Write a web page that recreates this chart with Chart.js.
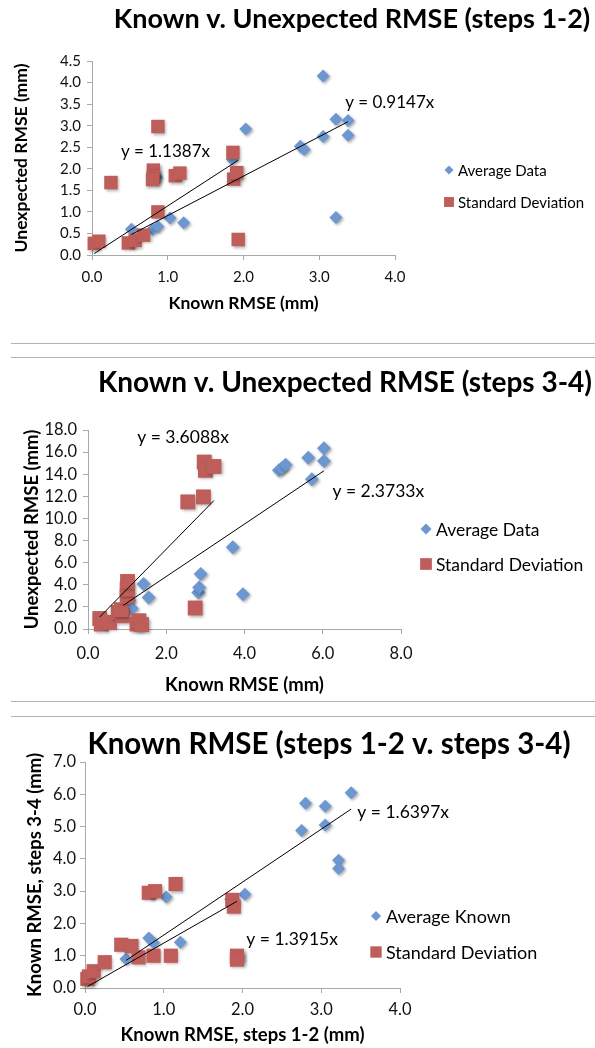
<!DOCTYPE html>
<html><head><meta charset="utf-8">
<script src="https://cdn.jsdelivr.net/npm/chart.js@4/dist/chart.umd.min.js"></script>
<style>
html,body{margin:0;padding:0;background:#fff;width:595px;height:1048px;overflow:hidden;position:relative;}
.box{position:absolute;left:0;}
.sep{position:absolute;left:11px;width:584px;height:0;border-top:1.5px solid #b4b4b4;}
</style></head><body>
<div class="box" style="top:0px"><canvas id="c1" width="595" height="340"></canvas></div>
<div class="box" style="top:358px"><canvas id="c2" width="595" height="342"></canvas></div>
<div class="box" style="top:718px"><canvas id="c3" width="595" height="330"></canvas></div>
<div class="sep" style="top:343px"></div>
<div class="sep" style="top:357px"></div>
<div class="sep" style="top:701px"></div>
<div class="sep" style="top:716px"></div>
<script>
// ---------- Chart 1: Known v. Unexpected RMSE (steps 1-2) ----------
const title1 = 'Known v. Unexpected RMSE (steps 1-2)';
const xTitle1 = 'Known RMSE (mm)';
const yTitle1 = 'Unexpected RMSE (mm)';
const series1 = ['Average Data', 'Standard Deviation'];
const xTicks1 = [0, 1, 2, 3, 4];
const yTicks1 = [0, 0.5, 1, 1.5, 2, 2.5, 3, 3.5, 4, 4.5];
const avg1X = [0.52, 0.80, 0.87, 0.85, 1.03, 1.21, 1.85, 2.03, 2.75, 2.80, 3.05, 3.05, 3.22, 3.22, 3.38, 3.38];
const avg1Y = [0.60, 0.60, 0.66, 1.80, 0.86, 0.75, 2.22, 2.92, 2.52, 2.45, 4.15, 2.75, 3.15, 0.87, 3.12, 2.78];
const sd1X = [0.03, 0.09, 0.25, 0.48, 0.57, 0.68, 0.81, 0.81, 0.80, 0.87, 0.87, 1.10, 1.16, 1.87, 1.86, 1.91, 1.93];
const sd1Y = [0.27, 0.32, 1.68, 0.28, 0.34, 0.46, 1.97, 1.82, 1.75, 2.98, 1.00, 1.84, 1.90, 1.76, 2.38, 1.91, 0.36];
const trend1 = [0.9147, 1.1387];           // slopes: average, std dev
const trend1Labels = ['y = 0.9147x', 'y = 1.1387x'];

// ---------- Chart 2: Known v. Unexpected RMSE (steps 3-4) ----------
const title2 = 'Known v. Unexpected RMSE (steps 3-4)';
const xTitle2 = 'Known RMSE (mm)';
const yTitle2 = 'Unexpected RMSE (mm)';
const series2 = ['Average Data', 'Standard Deviation'];
const xTicks2 = [0, 2, 4, 6, 8];
const yTicks2 = [0, 2, 4, 6, 8, 10, 12, 14, 16, 18];
const avg2X = [0.90, 1.05, 1.12, 1.42, 1.55, 2.82, 2.84, 2.88, 3.70, 3.96, 4.88, 4.95, 5.05, 5.63, 5.72, 6.03, 6.03];
const avg2Y = [1.50, 2.60, 1.85, 4.07, 2.85, 3.30, 3.75, 4.97, 7.40, 3.15, 14.35, 14.55, 14.85, 15.50, 13.55, 16.35, 15.20];
const sd2X = [0.30, 0.34, 0.55, 0.77, 0.88, 0.85, 1.00, 1.00, 1.01, 1.25, 1.30, 1.37, 2.55, 2.74, 2.95, 2.97, 3.00, 3.22];
const sd2Y = [0.95, 0.45, 0.60, 1.50, 1.20, 1.75, 2.95, 3.60, 4.30, 0.45, 0.75, 0.40, 11.50, 1.90, 11.95, 15.10, 14.35, 14.70];
const trend2 = [2.3733, 3.6088];
const trend2Labels = ['y = 2.3733x', 'y = 3.6088x'];

// ---------- Chart 3: Known RMSE (steps 1-2 v. steps 3-4) ----------
const title3 = 'Known RMSE (steps 1-2 v. steps 3-4)';
const xTitle3 = 'Known RMSE, steps 1-2 (mm)';
const yTitle3 = 'Known RMSE, steps 3-4 (mm)';
const series3 = ['Average Known', 'Standard Deviation'];
const xTicks3 = [0, 1, 2, 3, 4];
const yTicks3 = [0, 1, 2, 3, 4, 5, 6, 7];
const avg3X = [0.52, 0.81, 0.87, 0.85, 1.03, 1.21, 1.85, 2.03, 2.75, 2.80, 3.05, 3.05, 3.22, 3.22, 3.38];
const avg3Y = [0.90, 1.55, 1.40, 2.93, 2.82, 1.42, 2.75, 2.90, 4.88, 5.72, 5.63, 5.05, 3.96, 3.70, 6.05];
const sd3X = [0.03, 0.05, 0.11, 0.25, 0.46, 0.59, 0.68, 0.81, 0.89, 0.87, 1.09, 1.15, 1.87, 1.89, 1.93, 1.93];
const sd3Y = [0.28, 0.36, 0.52, 0.80, 1.34, 1.30, 0.95, 2.95, 3.00, 1.00, 1.00, 3.22, 2.73, 2.52, 1.00, 0.88];
const trend3 = [1.6397, 1.3915];
const trend3Labels = ['y = 1.6397x', 'y = 1.3915x'];

const BLUE = '#6D97D1';
const RED = '#BE5D59';
const AXIS = '#a9a9a9';
const FONT = 'Lato, "Open Sans", sans-serif';

function pts(xs, ys) { return xs.map((x, i) => ({x: x, y: ys[i]})); }
function trendPts(slope, xs) {
  const lo = Math.min(...xs), hi = Math.max(...xs);
  return [{x: lo, y: slope * lo}, {x: hi, y: slope * hi}];
}

// text drawn at pixel or data positions
const textPlugin = {
  id: 'freeText',
  afterDraw(chart, args, opts) {
    const ctx = chart.ctx;
    (opts.items || []).forEach(it => {
      let x = it.x, y = it.y;
      if (it.data) { x = chart.scales.x.getPixelForValue(it.x); y = chart.scales.y.getPixelForValue(it.y); }
      ctx.save();
      ctx.font = it.font; ctx.fillStyle = '#000';
      ctx.textAlign = it.align || 'center'; ctx.textBaseline = 'middle';
      ctx.fillText(it.text, x, y);
      ctx.restore();
    });
  }
};
// legend drawn from the dataset definitions
const legendPlugin = {
  id: 'sideLegend',
  afterDraw(chart, args, opts) {
    const ctx = chart.ctx;
    const ds = chart.data.datasets.filter(d => d.inLegend).sort((a, b) => a.legendIndex - b.legendIndex);
    ds.forEach((d, i) => {
      const y = opts.y + i * opts.gap;
      ctx.save();
      ctx.fillStyle = d.backgroundColor;
      Chart.helpers.drawPoint(ctx, {pointStyle: d.pointStyle, radius: opts.radius[i], borderWidth: 0, rotation: 0}, opts.x, y);
      ctx.fillStyle = '#000';
      ctx.font = opts.font; ctx.textAlign = 'left'; ctx.textBaseline = 'middle';
      ctx.fillText(d.label, opts.textX, y + 1);
      ctx.restore();
    });
  }
};
const shadowPlugin = {
  id: 'markerShadow',
  beforeDatasetDraw(chart, args) {
    if (chart.data.datasets[args.index].inLegend) {
      const c = chart.ctx; c.save();
      c.shadowColor = 'rgba(0,0,0,0.35)'; c.shadowBlur = 3; c.shadowOffsetX = 1.5; c.shadowOffsetY = 1.5;
    }
  },
  afterDatasetDraw(chart, args) {
    if (chart.data.datasets[args.index].inLegend) chart.ctx.restore();
  }
};

function makeChart(id, s) {
  const axisCommon = {
    type: 'linear',
    border: {display: true, color: AXIS, width: 1},
    grid: {display: true, drawOnChartArea: false, drawTicks: true, tickLength: 5, color: AXIS, tickColor: AXIS}
  };
  return new Chart(document.getElementById(id), {
    type: 'scatter',
    data: {
      datasets: [
        {label: s.series[0], data: pts(s.ax, s.ay), pointStyle: 'rectRot', backgroundColor: BLUE, borderWidth: 0,
         pointRadius: s.rAvg, pointHoverRadius: s.rAvg, order: 2, clip: false, inLegend: true, legendIndex: 0},
        {label: s.series[1], data: pts(s.sx, s.sy), pointStyle: 'rect', backgroundColor: RED, borderWidth: 0,
         pointRadius: s.rSd, pointHoverRadius: s.rSd, order: 1, clip: false, inLegend: true, legendIndex: 1},
        {label: 'trend avg', data: trendPts(s.slopes[0], s.ax), showLine: true, borderColor: '#000', borderWidth: 1,
         pointRadius: 0, order: 0, clip: false},
        {label: 'trend sd', data: trendPts(s.slopes[1], s.sx), showLine: true, borderColor: '#000', borderWidth: 1,
         pointRadius: 0, order: 0, clip: false}
      ]
    },
    options: {
      responsive: false, animation: false, events: [],
      layout: {padding: {top: s.padTop, right: s.padRight, left: 0, bottom: 0}, autoPadding: false},
      plugins: {
        legend: {display: false}, tooltip: {enabled: false}, title: {display: false},
        freeText: {items: [
          {text: s.title, x: s.titleX, y: s.titleY, font: 'bold ' + s.titleSize + 'px ' + FONT},
          {text: s.trendLabels[0], x: s.tl[0][0], y: s.tl[0][1], data: true, font: s.trendFont + 'px ' + FONT},
          {text: s.trendLabels[1], x: s.tl[1][0], y: s.tl[1][1], data: true, font: s.trendFont + 'px ' + FONT}
        ]},
        sideLegend: {x: s.legX, textX: s.legTextX, y: s.legY, gap: s.legGap, radius: s.legR, font: s.legFont + 'px ' + FONT}
      },
      scales: {
        x: Object.assign({}, axisCommon, {
          position: 'bottom',
          min: s.xTicks[0], max: s.xTicks[s.xTicks.length - 1],
          afterBuildTicks: sc => { sc.ticks = s.xTicks.map(v => ({value: v})); },
          ticks: {color: '#111', padding: s.xTickPad, font: {family: FONT, size: s.tickSize}, callback: v => Number(v).toFixed(1), maxRotation: 0, autoSkip: false},
          title: {display: true, text: s.xTitle, color: '#000', font: {family: FONT, size: s.axTitleSize, weight: 'bold'}, padding: {top: 0, bottom: s.xTitlePad}},
          afterFit: sc => { sc.height = s.xH; }
        }),
        y: Object.assign({}, axisCommon, {
          position: 'left',
          min: s.yTicks[0], max: s.yTicks[s.yTicks.length - 1],
          afterBuildTicks: sc => { sc.ticks = s.yTicks.map(v => ({value: v})); },
          ticks: {color: '#111', padding: s.yTickPad, font: {family: FONT, size: s.tickSize}, callback: v => Number(v).toFixed(1), autoSkip: false},
          title: {display: true, text: s.yTitle, color: '#000', font: {family: FONT, size: s.axTitleSize, weight: 'bold'}, padding: {top: s.yTitlePad, bottom: 0}},
          afterFit: sc => { sc.width = s.yW; }
        })
      }
    },
    plugins: [textPlugin, legendPlugin, shadowPlugin]
  });
}

makeChart('c1', {
  series: series1, ax: avg1X, ay: avg1Y, sx: sd1X, sy: sd1Y, slopes: trend1, trendLabels: trend1Labels,
  xTicks: xTicks1, yTicks: yTicks1, xTitle: xTitle1, yTitle: yTitle1, title: title1,
  rAvg: 6.5, rSd: 9.5, padTop: 61, padRight: 200, xH: 85, yW: 92,
  xTickPad: 8, yTickPad: 6, tickSize: 15, axTitleSize: 17.5, xTitlePad: 26, yTitlePad: 11,
  titleX: 352, titleY: 19, titleSize: 27,
  tl: [[3.93, 3.53], [0.97, 2.39]], trendFont: 17,
  legX: 449, legTextX: 458, legY: 170, legGap: 32, legR: [4.5, 7], legFont: 15
});
makeChart('c2', {
  series: series2, ax: avg2X, ay: avg2Y, sx: sd2X, sy: sd2Y, slopes: trend2, trendLabels: trend2Labels,
  xTicks: xTicks2, yTicks: yTicks2, xTitle: xTitle2, yTitle: yTitle2, title: title2,
  rAvg: 7, rSd: 10.5, padTop: 72, padRight: 194, xH: 71, yW: 88,
  xTickPad: 10, yTickPad: 6, tickSize: 16.5, axTitleSize: 18.5, xTitlePad: 4, yTitlePad: 21,
  titleX: 345, titleY: 25, titleSize: 28,
  tl: [[7.42, 12.48], [2.43, 17.36]], trendFont: 17.5,
  legX: 426, legTextX: 436, legY: 171, legGap: 35, legR: [5.5, 8.3], legFont: 17.5
});
makeChart('c3', {
  series: series3, ax: avg3X, ay: avg3Y, sx: sd3X, sy: sd3Y, slopes: trend3, trendLabels: trend3Labels,
  xTicks: xTicks3, yTicks: yTicks3, xTitle: xTitle3, yTitle: yTitle3, title: title3,
  rAvg: 6.5, rSd: 10, padTop: 44, padRight: 195, xH: 60, yW: 85,
  xTickPad: 7, yTickPad: 4, tickSize: 16.5, axTitleSize: 18.5, xTitlePad: 2, yTitlePad: 24,
  titleX: 329, titleY: 26, titleSize: 29.5,
  tl: [[4.04, 5.45], [2.63, 1.52]], trendFont: 17.5,
  legX: 376, legTextX: 386, legY: 198, legGap: 36, legR: [5, 8], legFont: 18
});
</script>
</body></html>
